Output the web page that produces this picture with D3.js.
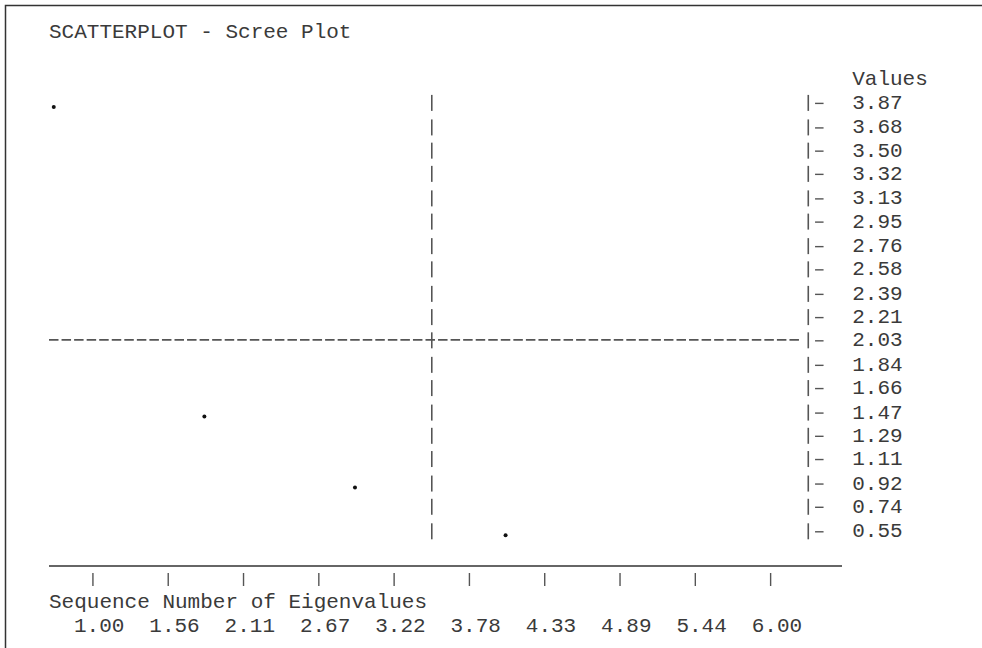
<!DOCTYPE html>
<html>
<head>
<meta charset="utf-8">
<script src="https://cdn.jsdelivr.net/npm/d3@7"></script>
<style>
  html, body { margin: 0; padding: 0; background: #fff; }
  svg text { font-family: "Courier New", "Liberation Mono", monospace; font-size: 21px; fill: #3a3a3a; }
</style>
</head>
<body>
<svg id="chart" width="982" height="648"></svg>
<script>
// ---- data ----
const titleText = "SCATTERPLOT - Scree Plot";
const yAxisTitle = "Values";
const xAxisTitle = "Sequence Number of Eigenvalues";
const sequence = [1, 2, 3, 4];
const eigenvalues = [3.87, 1.47, 0.92, 0.55];
const yTickLabels = ["3.87","3.68","3.50","3.32","3.13","2.95","2.76","2.58","2.39","2.21",
                     "2.03","1.84","1.66","1.47","1.29","1.11","0.92","0.74","0.55"];
const xTickLabels = ["1.00","1.56","2.11","2.67","3.22","3.78","4.33","4.89","5.44","6.00"];
const xDomain = [1, 6];
const refLineX = 3.5;
const refLineY = 2.03;

// ---- character grid layout ----
const W = 982, H = 648;
const gridLeft = 49, cw = 12.55, gridTop = 32, rh = 23.8;
const col = c => gridLeft + c * cw;           // left edge of column c
const row = r => gridTop + r * rh;            // vertical centre of row r

const svg = d3.select("#chart");

// frame
svg.append("rect").attr("x", 5.5).attr("y", 5.5).attr("width", W).attr("height", H)
  .attr("fill", "none").attr("stroke", "#333").attr("stroke-width", 1.5);

// scales
const x = d3.scaleLinear().domain(xDomain).range([col(0.5), col(60.5)]);
const y = d3.scaleLinear().domain([+yTickLabels[0], +yTickLabels[yTickLabels.length - 1]])
  .range([row(3), row(21)]);
const xTick = d3.scalePoint().domain(xTickLabels).range([col(3.5), col(57.5)]);

const txt = (s, xx, yy, anchor) => svg.append("text").attr("x", xx).attr("y", yy)
  .attr("dominant-baseline", "central").attr("text-anchor", anchor || "start").text(s);

txt(titleText, col(0), row(0));
txt(yAxisTitle, col(64), row(2));

// horizontal dashed reference line
svg.append("line").attr("x1", col(0)).attr("x2", col(60))
  .attr("y1", y(refLineY) - 1).attr("y2", y(refLineY) - 1)
  .attr("stroke", "#555").attr("stroke-width", 1.6).attr("stroke-dasharray", "9.5,3.05");

// y axis rows
const yg = svg.append("g");
yTickLabels.forEach(lbl => {
  const v = +lbl, yy = y(v);
  [x(refLineX), x(xDomain[1])].forEach(xx => {
    yg.append("line").attr("x1", xx).attr("x2", xx).attr("y1", yy - 8.5).attr("y2", yy + 7.5)
      .attr("stroke", "#555").attr("stroke-width", 1.6);
  });
  yg.append("line").attr("x1", col(61) + 0.5).attr("x2", col(61) + 9).attr("y1", yy).attr("y2", yy)
    .attr("stroke", "#555").attr("stroke-width", 1.4);
  yg.append("text").attr("x", col(64)).attr("y", yy).attr("dominant-baseline", "central").text(lbl);
});

// points
svg.append("g").selectAll("circle").data(sequence.map((s, i) => ({s, v: eigenvalues[i]})))
  .join("circle")
  .attr("cx", d => x(d.s) - 1.5).attr("cy", d => y(d.v) + 3.5).attr("r", 2).attr("fill", "#111");

// x axis
svg.append("line").attr("x1", col(0)).attr("x2", 842).attr("y1", 566).attr("y2", 566)
  .attr("stroke", "#666").attr("stroke-width", 2);
svg.append("g").selectAll("line").data(xTickLabels).join("line")
  .attr("x1", d => xTick(d)).attr("x2", d => xTick(d))
  .attr("y1", 573).attr("y2", 586).attr("stroke", "#555").attr("stroke-width", 1.4);
txt(xAxisTitle, col(0), row(24) - 1);
svg.append("g").selectAll("text").data(xTickLabels).join("text")
  .attr("x", d => xTick(d) + cw / 2).attr("y", row(25) - 1)
  .attr("dominant-baseline", "central").attr("text-anchor", "middle").text(d => d);
</script>
</body>
</html>
